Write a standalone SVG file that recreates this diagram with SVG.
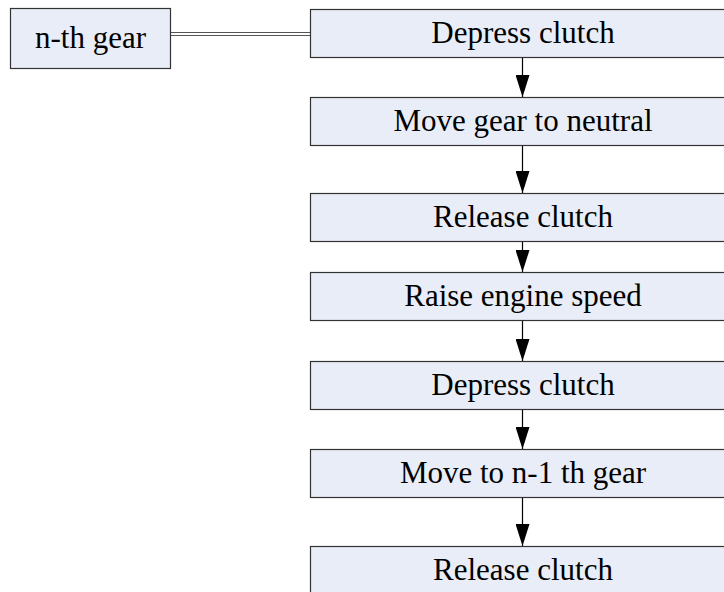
<svg xmlns="http://www.w3.org/2000/svg" width="724" height="592" viewBox="0 0 724 592">
<style>
.box{fill:#e8edf7;stroke:#333;stroke-width:1.2}
.t{font-family:"Liberation Serif","Times New Roman",serif;font-size:31px;fill:#000;text-anchor:middle}
.c{stroke:#000;stroke-width:1.2;fill:none}
</style>
<defs>
<marker id="ah" markerUnits="userSpaceOnUse" markerWidth="22" markerHeight="14" refX="22" refY="7" orient="auto" viewBox="0 0 22 14">
<path d="M0,0 L22,7 L0,14 Z" fill="#000"/>
</marker>
</defs>
<rect width="724" height="592" fill="#fff"/>
<g id="connectors">
<line x1="171" y1="32.5" x2="310" y2="32.5" stroke="#555" stroke-width="1.2"/>
<line x1="171" y1="35.5" x2="310" y2="35.5" stroke="#555" stroke-width="1.2"/>
<line class="c" x1="522.5" y1="57" x2="522.5" y2="97" marker-end="url(#ah)"/>
<line class="c" x1="522.5" y1="145" x2="522.5" y2="193" marker-end="url(#ah)"/>
<line class="c" x1="522.5" y1="241" x2="522.5" y2="272" marker-end="url(#ah)"/>
<line class="c" x1="522.5" y1="320" x2="522.5" y2="361" marker-end="url(#ah)"/>
<line class="c" x1="522.5" y1="409" x2="522.5" y2="449" marker-end="url(#ah)"/>
<line class="c" x1="522.5" y1="497" x2="522.5" y2="546" marker-end="url(#ah)"/>
</g>
<g id="nth"><rect class="box" x="10.5" y="8.5" width="160" height="60"/><text class="t" x="90.5" y="48">n-th gear</text></g>
<g id="s1"><rect class="box" x="310.5" y="9.5" width="426" height="48"/><text class="t" x="523" y="43">Depress clutch</text></g>
<g id="s2"><rect class="box" x="310.5" y="97.5" width="426" height="48"/><text class="t" x="523" y="131">Move gear to neutral</text></g>
<g id="s3"><rect class="box" x="310.5" y="193.5" width="426" height="48"/><text class="t" x="523" y="227">Release clutch</text></g>
<g id="s4"><rect class="box" x="310.5" y="272.5" width="426" height="48"/><text class="t" x="523" y="306">Raise engine speed</text></g>
<g id="s5"><rect class="box" x="310.5" y="361.5" width="426" height="48"/><text class="t" x="523" y="395">Depress clutch</text></g>
<g id="s6"><rect class="box" x="310.5" y="449.5" width="426" height="48"/><text class="t" x="523" y="483">Move to n-1 th gear</text></g>
<g id="s7"><rect class="box" x="310.5" y="546.5" width="426" height="60"/><text class="t" x="523" y="580">Release clutch</text></g>
</svg>
